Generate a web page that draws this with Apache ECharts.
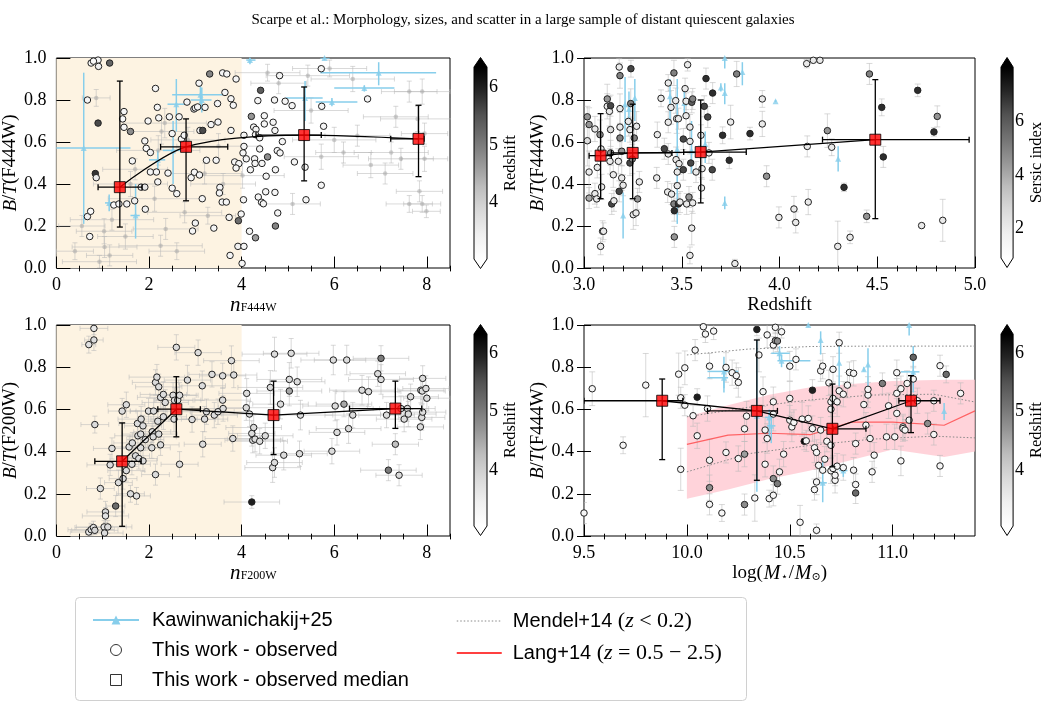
<!DOCTYPE html>
<html><head><meta charset="utf-8">
<script src="https://cdn.jsdelivr.net/npm/echarts@6/dist/echarts.min.js"></script>
<style>html,body{margin:0;padding:0;background:#fff}#c{width:1046px;height:707px}</style>
</head><body><div id="c"></div>
<script>
// ---------------- DATA ----------------
const titleText = 'Scarpe et al.: Morphology, sizes, and scatter in a large sample of distant quiescent galaxies';
const yTicks = [0, 0.2, 0.4, 0.6, 0.8, 1.0];
const nTicks = [0, 2, 4, 6, 8];
const nMinor = [0.5, 1, 1.5, 2.5, 3, 3.5, 4.5, 5, 5.5, 6.5, 7, 7.5, 8.5];
const zTicks = [3.0, 3.5, 4.0, 4.5, 5.0];
const zMinor = [3.1,3.2,3.3,3.4,3.6,3.7,3.8,3.9,4.1,4.2,4.3,4.4,4.6,4.7,4.8,4.9];
const mTicks = [9.5, 10.0, 10.5, 11.0];
const mMinor = [9.6,9.7,9.8,9.9,10.1,10.2,10.3,10.4,10.6,10.7,10.8,10.9,11.1,11.2,11.3];
const redshiftTicks = [4, 5, 6];
const sersicTicks = [2, 4, 6];

// Panel 1: n_F444W vs B/T(F444W)  [n, B/T, redshift]
const p1Obs = [[0.75,0.976,3.3],[0.9,0.99,3.3],[0.91,0.96,3.4],[0.8,0.985,3.2],[1.15,0.976,5.3],
[0.67,0.80,3.3],[0.9,0.69,5.6],[0.84,0.45,5.8],[0.86,0.43,3.5],[0.67,0.245,3.4],[0.74,0.27,3.2],[0.72,0.15,3.3],
[1.24,0.30,3.2],[1.35,0.305,3.3],[1.52,0.305,3.3],[1.69,0.32,3.4],[1.46,0.745,3.3],[1.43,0.71,3.2],[1.46,0.67,3.3],[1.6,0.65,4.8],
[1.64,0.51,3.3],[1.91,0.605,3.3],[1.94,0.57,3.2],[2.03,0.55,3.4],[1.98,0.70,3.3],[2.14,0.855,3.3],
[2.18,0.765,3.3],[2.21,0.715,3.3],[1.83,0.385,3.4],[1.91,0.385,3.6],[1.92,0.28,3.4],
[2.03,0.457,3.3],[2.16,0.457,3.3],[2.19,0.41,3.3],[2.41,0.452,3.3],[2.5,0.38,3.3],[2.6,0.354,3.3],
[2.44,0.72,3.3],[2.5,0.64,3.3],[2.65,0.72,3.3],[2.7,0.614,3.3],[2.76,0.632,3.3],[2.82,0.79,3.3],
[2.97,0.757,3.3],[3.0,0.762,3.3],[3.05,0.767,3.3],[3.08,0.88,3.3],[3.1,0.655,3.3],[3.16,0.655,5.6],
[2.91,0.43,3.3],[2.98,0.456,3.3],[3.09,0.443,3.3],[3.15,0.33,3.3],[3.0,0.214,3.4],[2.94,0.176,3.3],
[3.21,0.765,3.3],[3.31,0.924,4.9],[3.24,0.513,3.3],[3.45,0.513,3.3],[3.34,0.683,3.3],[3.49,0.695,3.3],[3.48,0.783,3.3],
[3.4,0.19,3.3],[3.53,0.384,3.3],[3.52,0.357,3.3],[3.58,0.314,3.3],[3.67,0.314,3.3],
[3.59,0.929,3.3],[3.68,0.924,3.3],[3.88,0.90,3.3],[3.64,0.836,3.3],[3.77,0.806,3.3],[3.82,0.775,3.3],[3.77,0.655,3.3],
[3.85,0.505,3.3],[3.94,0.497,3.3],[3.88,0.476,3.3],[3.73,0.241,3.3],[3.93,0.225,5.2],[3.99,0.257,3.3],
[3.92,0.103,3.4],[4.05,0.103,3.3],[3.75,0.06,3.3],[4.01,0.022,3.3],[4.04,0.325,3.3],
[4.05,0.632,3.3],[4.05,0.579,3.3],[4.03,0.548,3.3],[4.1,0.52,3.3],[4.19,0.468,3.3],
[4.21,0.722,4.7],[4.41,0.846,5.4],[4.35,0.797,3.3],[4.26,0.671,3.3],[4.31,0.66,3.3],[4.3,0.635,3.3],[4.39,0.62,3.3],
[4.28,0.52,3.3],[4.29,0.498,3.3],[4.44,0.498,3.3],[4.39,0.567,3.3],[4.49,0.725,3.3],[4.49,0.686,3.3],[4.56,0.529,4.8],[4.53,0.437,3.3],
[4.17,0.175,3.3],[4.3,0.144,4.6],[4.36,0.338,3.3],[4.43,0.313,3.3],[4.47,0.306,3.3],[4.52,0.363,3.3],
[4.71,0.80,3.3],[4.68,0.694,3.3],[4.72,0.655,3.3],[4.73,0.468,3.3],[4.72,0.36,3.3],[4.73,0.2,4.9],[4.78,0.262,3.3],
[4.77,0.559,3.3],[4.83,0.548,3.3],[4.88,0.602,3.3],[4.82,0.916,3.3],[4.94,0.794,3.3],[5.09,0.773,3.3],
[5.14,0.505,3.3],[5.37,0.48,3.3],[5.39,0.325,3.3],[5.72,0.949,3.3],[5.73,0.77,3.3],[5.77,0.675,3.3],[5.72,0.394,3.3],[6.72,0.805,3.3]];
// faint points [n, B/T, err_n, err_BT]
const p1Faint = [[0.86,0.81,0.3,0.04],[1.03,0.175,0.6,0.06],[1.04,0.10,0.7,0.05],[0.93,0.03,0.8,0.03],[1.15,0.06,0.5,0.05],[1.49,0.15,0.6,0.06],
[2.25,0.106,0.9,0.05],[2.36,0.186,0.7,0.05],[2.77,0.265,0.8,0.05],[3.27,0.249,0.6,0.04],[2.12,0.33,1.0,0.06],[1.2,0.23,0.9,0.05],
[1.6,0.40,0.8,0.06],[2.34,0.69,0.9,0.07],[2.27,0.65,0.7,0.06],[2.84,0.61,0.8,0.06],[2.2,0.56,0.9,0.07],[1.7,0.47,0.7,0.05],
[3.5,0.58,0.9,0.06],[3.2,0.45,0.8,0.05],[4.02,0.44,0.9,0.06],[4.56,0.93,0.7,0.04],[5.43,0.916,0.9,0.05],[5.9,0.95,0.8,0.04],
[6.4,0.90,0.9,0.06],[6.79,0.49,0.6,0.06],[7.33,0.72,0.7,0.05],[7.62,0.84,0.6,0.05],[7.9,0.84,0.6,0.06],[7.8,0.71,0.8,0.06],
[7.95,0.64,0.5,0.05],[7.95,0.52,0.5,0.06],[7.44,0.52,0.7,0.05],[7.84,0.365,0.5,0.05],[7.62,0.305,0.5,0.04],[7.9,0.305,0.4,0.04],
[7.99,0.27,0.3,0.03],[7.23,0.55,0.8,0.05],[5.1,0.305,0.6,0.05],[6.0,0.61,0.9,0.06],[5.72,0.53,0.8,0.06],[6.5,0.63,0.7,0.05],
[5.5,0.75,0.8,0.06],[6.2,0.55,0.6,0.05],[0.4,0.08,0.4,0.04],[0.55,0.2,0.5,0.05],[2.6,0.08,0.6,0.04],[3.6,0.4,0.7,0.05],
[4.8,0.88,0.6,0.05],[7.1,0.45,0.6,0.05]];
// Kawinwanichakij+25 [x, y, xlo, xhi, ylo, yhi]
const p1Kaw = [[0.59,0.571,0.0,1.6,0.21,0.93],[1.14,0.31,1.05,1.25,0.27,0.35],[1.71,0.25,1.6,1.8,0.14,0.4],[2.19,0.515,2.0,2.35,0.47,0.56],
[2.52,0.56,2.3,2.8,0.4,0.7],[2.59,0.78,2.4,2.8,0.65,0.9],[3.11,0.825,2.5,3.6,0.78,0.87],[3.14,0.8,2.9,3.35,0.74,0.86],
[4.18,0.99,4.1,4.3,0.97,1.0],[5.37,0.81,4.95,5.75,0.7,0.89],[5.95,0.79,5.6,6.5,0.77,0.81],[6.65,0.857,6.0,7.3,0.84,0.87],
[6.96,0.93,5.7,8.2,0.87,0.98],[5.79,1.0,5.7,5.9,0.99,1.0]];
// medians [x, y, xlo, xhi, ylo, yhi]
const p1Med = [[1.37,0.385,0.9,1.85,0.195,0.89],[2.8,0.577,2.25,3.7,0.32,0.71],[5.35,0.633,4.31,5.72,0.415,0.862],[7.82,0.615,7.22,7.94,0.435,0.775]];

// Panel 2: redshift vs B/T(F444W) [z, B/T, sersic n, err_BT]
const p2Obs = [[3.017,0.72,4.5,0.05],[3.026,0.683,4.5,0.08],[3.017,0.606,2.5,0.12],[3.026,0.457,2,0.1],[3.026,0.333,4,0.05],
[3.056,0.354,2,0.05],[3.056,0.662,2,0.06],[3.068,0.479,2,0.05],[3.065,0.329,2,0.04],
[3.082,0.635,4.5,0.07],[3.087,0.567,2,0.06],[3.09,0.386,2,0.06],[3.085,0.103,2,0.04],[3.095,0.175,2,0.05],[3.1,0.175,2,0.04],
[3.119,0.805,4.5,0.07],[3.119,0.77,2,0.06],[3.13,0.746,2,0.07],[3.136,0.773,6.5,0.05],
[3.136,0.659,2.5,0.08],[3.136,0.548,4.5,0.06],[3.133,0.508,2,0.06],[3.142,0.305,6.5,0.05],[3.15,0.444,2,0.06],[3.153,0.32,2,0.05],
[3.176,0.508,2,0.06],[3.18,0.957,2,0.04],[3.184,0.916,5,0.06],[3.184,0.759,2,0.07],[3.184,0.671,2,0.07],[3.184,0.619,5,0.06],[3.193,0.556,4.5,0.07],[3.193,0.429,2,0.06],[3.2,0.394,2,0.05],[3.18,0.365,6.5,0.05],
[3.227,0.698,2,0.07],[3.235,0.659,2,0.06],[3.235,0.5,6.5,0.06],[3.239,0.783,5,0.07],[3.24,0.949,6.5,0.04],[3.247,0.519,5,0.07],[3.252,0.254,2,0.07],[3.257,0.619,5,0.06],[3.266,0.262,2,0.06],[3.269,0.675,2,0.07],[3.274,0.329,4.5,0.05],[3.283,0.41,2,0.05],
[3.372,0.429,2,0.05],[3.375,0.635,2,0.06],[3.394,0.808,2,0.04],[3.411,0.568,6.5,0.05],
[3.431,0.881,2,0.04],[3.431,0.694,2,0.05],[3.431,0.543,2,0.05],[3.428,0.362,2,0.05],[3.445,0.765,2,0.08],[3.448,0.352,2,0.05],
[3.46,0.929,5,0.06],[3.46,0.305,5,0.05],[3.462,0.148,4.5,0.05],[3.462,0.273,7,0.05],
[3.469,0.797,2,0.06],[3.474,0.711,2,0.07],[3.483,0.711,2,0.05],[3.471,0.516,2,0.06],[3.477,0.457,2,0.05],[3.477,0.392,2,0.06],[3.486,0.497,2,0.05],[3.483,0.305,7,0.05],[3.491,0.314,2,0.05],
[3.508,0.468,6.5,0.05],[3.508,0.614,6.5,0.05],[3.517,0.854,2,0.05],[3.522,0.794,2,0.04],[3.522,0.725,2,0.06],[3.525,0.305,2,0.05],
[3.53,0.968,2,0.03],[3.537,0.338,4.5,0.05],[3.542,0.671,2,0.06],[3.542,0.603,2,0.06],[3.546,0.5,6.5,0.05],[3.542,0.06,2,0.04],[3.551,0.19,2,0.08],[3.556,0.31,2,0.05],
[3.551,0.789,6,0.05],[3.556,0.805,5,0.05],[3.573,0.457,2,0.05],[3.598,0.632,2,0.05],[3.604,0.473,2,0.05],[3.601,0.381,2,0.05],
[3.615,0.77,6.5,0.05],[3.624,0.902,7,0.05],[3.633,0.719,6.5,0.05],[3.639,0.548,2,0.05],
[3.658,0.833,7,0.05],[3.656,0.468,6.5,0.05],[3.709,0.632,7,0.04],[3.743,0.513,7,0.04],[3.75,0.695,2,0.08],[3.772,0.021,2,0.02],
[3.781,0.924,5,0.06],[3.849,0.64,7,0.03],[3.912,0.805,2,0.04],[3.912,0.686,2,0.06],[3.934,0.437,4.5,0.05],
[3.997,0.241,2,0.05],[4.074,0.281,2,0.06],[4.083,0.217,2,0.05],[4.139,0.973,2,0.02],[4.173,0.989,2,0.01],[4.207,0.989,2,0.01],
[4.142,0.579,2,0.05],[4.147,0.314,2,0.06],[4.245,0.654,4.5,0.08],[4.267,0.575,2,0.04],[4.298,0.103,2,0.12],[4.33,0.384,7,0.02],[4.361,0.146,2,0.03],
[4.46,0.924,5,0.05],[4.446,0.246,4.5,0.03],[4.523,0.765,7,0.04],[4.531,0.529,7,0.05],
[4.707,0.846,7,0.03],[4.727,0.202,2,0.01],[4.79,0.648,7,0.02],[4.807,0.722,4.5,0.05],[4.835,0.227,2,0.1]];
const p2Kaw = [[3.21,0.78,3.21,3.21,0.6,0.91],[3.2,0.25,3.2,3.2,0.14,0.36],[3.23,0.757,3.23,3.23,0.65,0.84],[3.26,0.81,3.26,3.26,0.7,0.9],
[3.44,0.818,3.44,3.44,0.7,0.9],[3.477,0.565,3.477,3.477,0.21,0.9],[3.513,0.786,3.513,3.513,0.72,0.85],[3.55,0.56,3.55,3.55,0.45,0.7],
[3.62,0.59,3.62,3.62,0.5,0.65],[3.7,0.86,3.7,3.7,0.84,0.88],[3.72,0.833,3.72,3.72,0.78,0.88],[3.72,1.0,3.72,3.72,0.95,1.0],
[3.72,0.31,3.72,3.72,0.28,0.34],[3.81,0.933,3.81,3.81,0.87,0.98],[3.98,0.794,3.98,3.98,0.79,0.8],[4.3,0.52,4.3,4.3,0.46,0.58]];
const p2Med = [[3.085,0.535,3.026,3.14,0.33,0.735],[3.249,0.548,3.14,3.45,0.33,0.78],[3.597,0.552,3.51,3.83,0.31,0.80],[4.49,0.611,4.22,4.97,0.235,0.897]];

// Panel 3: n_F200W vs B/T(F200W) [n, B/T, redshift, err_n, err_BT]
const p3Obs = [[0.70,0.907,3.7,0.15,0.04],[0.81,0.929,3.8,0.2,0.05],[0.81,0.984,3.6,0.3,0.03],
[0.83,0.528,3.8,0.3,0.04],[0.95,0.225,3.8,0.3,0.05],[0.70,0.019,3.6,0.4,0.02],[0.75,0.03,3.8,0.5,0.03],[0.8,0.04,3.7,0.4,0.03],[0.83,0.027,3.9,0.5,0.02],[1.03,0.043,3.7,0.6,0.03],[1.11,0.043,3.8,0.4,0.03],[1.06,0.114,3.8,0.4,0.05],[1.06,0.095,3.7,0.5,0.04],[1.04,0.014,3.8,0.4,0.02],
[1.28,0.142,5.2,0.2,0.05],[1.34,0.253,3.8,0.3,0.06],[1.44,0.272,3.8,0.3,0.05],[1.51,0.31,3.8,0.4,0.05],[1.63,0.34,3.8,0.4,0.05],[1.6,0.2,3.8,0.3,0.04],[1.73,0.19,3.7,0.3,0.04],
[1.16,0.337,3.8,0.5,0.05],[1.2,0.415,3.8,0.4,0.05],[1.42,0.592,3.8,0.3,0.06],[1.51,0.622,3.8,0.4,0.06],
[1.57,0.422,3.8,0.4,0.05],[1.64,0.441,3.8,0.4,0.05],[1.71,0.38,3.8,0.3,0.05],[1.78,0.367,3.8,0.4,0.05],[1.87,0.356,3.8,0.3,0.05],
[1.75,0.533,3.8,0.4,0.06],[1.83,0.554,3.8,0.5,0.06],[1.87,0.522,3.8,0.4,0.05],[1.76,0.475,3.8,0.5,0.05],[1.82,0.483,3.8,0.4,0.05],[1.82,0.418,3.8,0.4,0.05],[1.92,0.457,3.8,0.4,0.05],
[1.99,0.592,3.8,0.4,0.06],[2.1,0.592,3.8,0.5,0.06],[2.07,0.494,3.8,0.4,0.05],[2.09,0.47,3.8,0.5,0.05],[2.06,0.418,3.8,0.4,0.05],[2.14,0.291,3.8,0.3,0.05],
[2.14,0.728,3.8,0.5,0.06],[2.17,0.753,3.8,0.6,0.06],[2.21,0.707,3.8,0.5,0.06],[2.19,0.544,3.8,0.4,0.06],[2.21,0.483,3.8,0.4,0.05],[2.25,0.432,3.8,0.4,0.05],
[2.25,0.657,3.8,0.5,0.06],[2.31,0.671,3.8,0.5,0.06],[2.31,0.565,3.8,0.5,0.06],[2.35,0.633,3.8,0.5,0.06],
[2.52,0.667,3.8,0.5,0.06],[2.55,0.643,3.8,0.4,0.06],[2.54,0.554,3.8,0.5,0.06],[2.59,0.894,3.8,0.4,0.06],[2.62,0.644,3.8,0.5,0.06],[2.66,0.667,3.8,0.4,0.06],[2.66,0.34,3.8,0.4,0.06],
[2.83,0.739,3.8,0.5,0.07],[2.93,0.552,3.8,0.5,0.06],[3.06,0.869,3.8,0.5,0.06],[3.15,0.712,3.8,0.5,0.07],[3.16,0.435,3.8,0.4,0.06],[3.2,0.554,3.8,0.5,0.06],[3.24,0.589,3.8,0.6,0.06],
[3.36,0.766,3.8,0.5,0.06],[3.41,0.573,3.8,0.5,0.06],[3.49,0.589,3.8,0.6,0.06],[3.59,0.759,3.8,0.5,0.06],[3.59,0.644,3.8,0.6,0.06],[3.6,0.604,3.8,0.5,0.06],
[3.78,0.831,3.8,0.6,0.07],[3.83,0.763,3.8,0.5,0.06],[3.81,0.462,3.8,0.6,0.06],
[4.11,0.676,3.8,0.6,0.07],[4.1,0.608,3.8,0.6,0.06],[4.17,0.578,3.8,0.6,0.06],
[4.22,0.486,3.8,0.5,0.06],[4.26,0.514,3.8,0.6,0.06],[4.24,0.454,3.8,0.6,0.06],[4.29,0.459,3.8,0.6,0.06],[4.39,0.449,3.8,0.6,0.06],[4.51,0.475,3.8,0.6,0.06],
[4.62,0.704,3.8,0.7,0.08],[4.67,0.324,3.8,0.6,0.07],[4.71,0.348,3.8,0.6,0.07],[4.71,0.862,3.8,0.7,0.08],[4.84,0.625,3.8,0.6,0.07],
[4.91,0.383,3.8,0.6,0.07],[5.03,0.742,3.8,0.7,0.08],[5.03,0.687,4.5,0.7,0.07],[5.07,0.866,3.8,0.6,0.07],[5.2,0.731,3.8,0.6,0.07],[5.25,0.39,3.8,0.6,0.06],[5.27,0.573,3.8,0.7,0.07],
[5.95,0.402,3.8,0.6,0.06],[5.98,0.834,3.8,0.7,0.07],[6.02,0.616,3.8,0.7,0.07],[6.06,0.491,3.8,0.6,0.06],[6.27,0.834,3.8,0.7,0.07],[6.21,0.625,4.5,0.6,0.06],[6.31,0.509,3.8,0.7,0.07],[6.4,0.573,3.8,0.6,0.06],
[6.6,0.691,3.8,0.7,0.07],[6.74,0.684,3.8,0.7,0.07],[6.94,0.769,3.8,0.6,0.06],[7.01,0.742,3.8,0.7,0.07],[7.01,0.842,5.0,0.6,0.06],
[7.13,0.573,3.8,0.6,0.06],[7.17,0.312,5.0,0.6,0.05],[7.32,0.435,4.2,0.5,0.05],[7.4,0.288,3.8,0.5,0.05],
[7.44,0.604,3.8,0.6,0.06],[7.51,0.554,3.8,0.6,0.06],[7.58,0.604,3.8,0.6,0.06],[7.6,0.578,3.8,0.6,0.06],[7.65,0.66,3.8,0.6,0.06],
[7.87,0.691,3.8,0.5,0.06],[7.91,0.747,3.8,0.5,0.06],[7.9,0.687,3.8,0.5,0.06],[7.89,0.562,3.8,0.5,0.06],[7.91,0.587,3.8,0.5,0.06],[7.86,0.517,3.8,0.5,0.06],[7.98,0.699,3.8,0.5,0.06],[8.0,0.653,3.8,0.5,0.06],
[4.22,0.161,6.0,0.6,0.03]];
const p3Med = [[1.42,0.354,0.83,1.83,0.046,0.536],[2.59,0.601,2.19,3.11,0.47,0.755],[4.69,0.573,4.69,4.69,0.386,0.734],[7.32,0.604,6.33,7.89,0.51,0.734]];

// Panel 4: log stellar mass vs B/T(F444W) [logM, B/T, redshift, err_BT]
const p4Obs = [[9.5,0.109,3.3,0.05],[9.54,0.698,3.3,0.08],[9.69,0.43,3.3,0.04],[9.8,0.715,3.3,0.15],
[9.96,0.767,3.3,0.1],[9.97,0.655,3.3,0.05],[9.97,0.316,3.3,0.1],[9.99,0.797,3.3,0.08],[9.99,0.62,3.3,0.05],
[10.03,0.57,3.3,0.05],[10.04,0.881,3.3,0.05],[10.05,0.658,6.0,0.04],[10.05,0.475,3.3,0.06],
[10.08,0.992,3.3,0.05],[10.09,0.957,3.3,0.04],[10.13,0.971,3.3,0.04],[10.1,0.604,3.3,0.06],
[10.11,0.359,3.3,0.1],[10.11,0.229,4.8,0.06],[10.11,0.15,3.3,0.05],[10.11,0.805,3.3,0.06],[10.17,0.109,3.3,0.04],
[10.19,0.799,3.3,0.07],[10.19,0.396,3.3,0.05],[10.22,0.774,3.3,0.06],[10.24,0.76,3.3,0.06],[10.25,0.728,3.3,0.07],[10.25,0.367,3.3,0.06],
[10.28,0.149,4.8,0.05],[10.28,0.388,4.6,0.06],[10.28,0.508,3.3,0.06],[10.29,0.568,3.3,0.07],
[10.33,0.18,3.3,0.11],[10.34,0.979,6.0,0.03],[10.35,0.858,3.3,0.08],[10.37,0.684,3.3,0.07],[10.38,0.502,3.3,0.06],[10.38,0.34,3.3,0.06],
[10.39,0.953,3.3,0.06],[10.39,0.462,3.3,0.07],[10.4,0.177,3.3,0.04],[10.42,0.193,3.3,0.05],[10.42,0.272,4.8,0.06],[10.44,0.248,5.0,0.05],[10.45,0.304,3.3,0.06],[10.47,0.388,3.3,0.06],
[10.42,0.905,3.3,0.04],[10.43,0.926,4.7,0.04],[10.43,0.989,3.3,0.03],[10.44,0.924,4.8,0.05],[10.46,0.968,3.3,0.03],[10.42,0.636,3.3,0.07],[10.42,0.578,3.3,0.08],
[10.5,0.652,3.3,0.08],[10.5,0.549,3.3,0.07],[10.5,0.805,3.3,0.07],[10.51,0.517,3.3,0.07],[10.52,0.538,3.3,0.06],[10.53,0.837,3.3,0.05],
[10.55,0.065,3.3,0.08],[10.56,0.554,3.3,0.08],[10.57,0.449,6.3,0.04],[10.58,0.451,3.3,0.05],[10.59,0.557,3.3,0.06],
[10.61,0.691,6.0,0.05],[10.61,0.509,3.3,0.06],[10.62,0.418,3.3,0.07],[10.62,0.22,3.3,0.05],[10.63,0.256,3.3,0.06],[10.63,0.027,3.3,0.03],[10.63,0.396,3.3,0.06],[10.64,0.335,3.3,0.06],
[10.65,0.502,3.3,0.06],[10.65,0.783,3.3,0.05],[10.66,0.805,3.3,0.06],[10.67,0.364,3.3,0.06],[10.66,0.312,3.3,0.06],
[10.68,0.449,3.3,0.05],[10.69,0.726,3.3,0.06],[10.7,0.43,3.3,0.06],[10.7,0.309,3.3,0.06],[10.7,0.636,3.3,0.07],[10.7,0.601,3.3,0.07],[10.71,0.79,3.3,0.06],[10.71,0.32,3.3,0.06],[10.71,0.652,3.3,0.07],[10.72,0.264,3.3,0.06],[10.72,0.288,3.3,0.05],[10.73,0.636,3.3,0.07],[10.73,0.331,3.3,0.06],
[10.74,0.688,3.3,0.07],[10.74,0.916,3.3,0.05],[10.76,0.672,3.3,0.06],[10.76,0.324,3.3,0.06],[10.78,0.715,3.3,0.06],
[10.79,0.775,3.3,0.05],[10.81,0.312,3.3,0.06],[10.81,0.771,3.3,0.06],[10.82,0.244,3.3,0.05],[10.82,0.204,5.2,0.05],[10.82,0.438,3.3,0.05],
[10.86,0.623,3.3,0.06],[10.87,0.525,3.3,0.06],[10.88,0.668,3.3,0.06],[10.88,0.695,3.3,0.06],[10.89,0.462,3.3,0.06],[10.9,0.304,3.3,0.05],[10.91,0.383,3.3,0.06],
[10.95,0.723,5.0,0.05],[10.97,0.47,3.3,0.06],[10.98,0.617,3.3,0.06],[11.01,0.47,3.3,0.06],
[11.02,0.774,3.3,0.06],[11.02,0.676,3.3,0.07],[11.02,0.581,3.3,0.07],[11.04,0.698,3.3,0.06],[11.04,0.356,3.3,0.07],[11.05,0.517,3.3,0.06],[11.05,0.509,3.3,0.06],[11.06,0.502,3.3,0.05],
[11.07,0.723,3.3,0.06],[11.08,0.549,3.3,0.06],[11.1,0.847,5.3,0.05],[11.1,0.744,3.3,0.06],[11.12,0.641,3.3,0.06],
[11.17,0.533,4.8,0.05],[11.2,0.641,3.3,0.05],[11.2,0.481,3.3,0.05],[11.23,0.807,3.3,0.05],[11.23,0.332,3.3,0.05],[11.26,0.766,5.2,0.04],[11.33,0.676,3.3,0.05]];
const p4Kaw = [[10.18,0.78,10.1,10.25,0.7,0.85],[10.18,0.75,10.1,10.2,0.68,0.8],[10.4,0.562,10.38,10.42,0.45,0.6],[10.41,0.522,10.39,10.43,0.44,0.58],
[10.45,0.866,10.41,10.5,0.83,0.9],[10.46,0.831,10.44,10.6,0.8,0.86],[10.59,1.0,10.59,10.59,0.99,1.0],[10.65,0.929,10.65,10.65,0.86,0.97],
[10.66,0.252,10.64,10.68,0.16,0.35],[10.74,0.821,10.74,10.74,0.71,0.93],[10.86,0.79,10.86,10.86,0.78,0.8],[10.88,0.813,10.88,10.88,0.7,0.89],
[11.08,1.0,11.08,11.08,0.95,1.0],[11.1,0.778,11.04,11.13,0.68,0.9],[11.25,0.592,11.25,11.25,0.55,0.63],[10.76,0.31,10.74,10.78,0.28,0.33],
[10.34,0.57,10.34,10.34,0.21,0.93]];
const p4Med = [[9.88,0.641,9.5,9.98,0.362,0.744],[10.34,0.593,10.1,10.44,0.264,0.929],[10.707,0.508,10.71,10.87,0.328,0.72],[11.089,0.641,11.03,11.23,0.49,0.76]];
// Lang+14 (z = 0.5-2.5)
const langX = [10.0, 10.2, 10.4, 10.6, 10.8, 11.0, 11.25, 11.4];
const langMid = [0.434, 0.478, 0.487, 0.48, 0.54, 0.54, 0.525, 0.593];
const langLo = [0.177, 0.22, 0.27, 0.31, 0.36, 0.41, 0.375, 0.40];
const langHi = [0.565, 0.62, 0.67, 0.705, 0.72, 0.735, 0.74, 0.74];
// Mendel+14 (z < 0.2)
const mendX = [10.0, 10.3, 10.6, 10.9, 11.2, 11.4];
const mendHi = [0.858, 0.886, 0.898, 0.9, 0.9, 0.9];
const mendMid = [0.565, 0.61, 0.645, 0.668, 0.672, 0.635];
const mendLo = [0.304, 0.39, 0.43, 0.459, 0.473, 0.465];

// ---------------- STYLE / BUILD ----------------
const SERIF = "'Liberation Serif', 'DejaVu Serif', serif";
const SANS = "'Liberation Sans', 'DejaVu Sans', sans-serif";
const GREYS = ['#ffffff','#f0f0f0','#d9d9d9','#bdbdbd','#969696','#737373','#525252','#252525','#000000'];
const SKY = '#87ceeb';
const EB_GREY = 'rgba(185,185,185,0.55)';

const panels = [
  {left: 55, top: 58, width: 395, height: 210, xmin: 0, xmax: 8.5, ticks: nTicks, minor: nMinor, fmt: v => String(v)},
  {left: 584, top: 58, width: 391, height: 210, xmin: 3.0, xmax: 5.0, ticks: zTicks, minor: zMinor, fmt: v => v.toFixed(1)},
  {left: 55, top: 325, width: 395, height: 211, xmin: 0, xmax: 8.5, ticks: nTicks, minor: nMinor, fmt: v => String(v)},
  {left: 584, top: 325, width: 391, height: 211, xmin: 9.5, xmax: 11.4, ticks: mTicks, minor: mMinor, fmt: v => v.toFixed(1)}
];
const cbars = [
  {left: 474, top: 67, width: 13, height: 192, lo: 3.02, hi: 6.36, ticks: redshiftTicks, name: 'Redshift'},
  {left: 1001, top: 67, width: 12.5, height: 191, lo: 0.89, hi: 8.05, ticks: sersicTicks, name: 'Sersic index'},
  {left: 474, top: 334, width: 13, height: 192, lo: 3.04, hi: 6.33, ticks: redshiftTicks, name: 'Redshift'},
  {left: 1001, top: 334, width: 12.5, height: 192, lo: 3.04, hi: 6.33, ticks: redshiftTicks, name: 'Redshift'}
];

// axis titles: main part on the major axis, subscript part on the minor-tick axis (fixed-width tokens keep them aligned)
const mainRich = {
  i: {fontFamily: SERIF, fontStyle: 'italic', fontSize: 20, color: '#000'},
  r: {fontFamily: SERIF, fontSize: 19, color: '#000'},
  n: {fontFamily: SERIF, fontStyle: 'italic', fontSize: 21, width: 11, color: '#000'},
  a: {fontFamily: SERIF, fontSize: 19, width: 32, color: '#000'},
  M: {fontFamily: SERIF, fontStyle: 'italic', fontSize: 20, width: 17, color: '#000'},
  b: {fontFamily: SERIF, fontSize: 19, width: 6, color: '#000'},
  c: {fontFamily: SERIF, fontSize: 19, width: 7, color: '#000'},
  g36: {width: 36}, g8: {width: 8}, g9: {width: 9}
};
const subRich = {
  s: {fontFamily: SERIF, fontSize: 12, color: '#000'},
  t: {fontFamily: "'DejaVu Serif', serif", fontSize: 11, width: 8, color: '#000'},
  t9: {fontFamily: "'DejaVu Serif', serif", fontSize: 11, width: 9, color: '#000'},
  g11: {width: 11}, g49: {width: 49}, g23: {width: 23}, g7: {width: 7}
};
const xMain = ['{n|n}{g36| }', '{r|Redshift}', '{n|n}{g36| }', '{a|log(}{M|M}{g8| }{b|/}{M|M}{g9| }{c|)}'];
const xSub = ['{g11| }{s|F444W}', '', '{g11| }{s|F200W}', '{g49| }{t|\u22c6}{g23| }{t9|\u2299}{g7| }'];
const yNames = ['{i|B}{r|/}{i|T}{r|(F444W)}', '{i|B}{r|/}{i|T}{r|(F444W)}', '{i|B}{r|/}{i|T}{r|(F200W)}', '{i|B}{r|/}{i|T}{r|(F444W)}'];
const yRich = {
  i: {fontFamily: SERIF, fontStyle: 'italic', fontSize: 19, color: '#000'},
  r: {fontFamily: SERIF, fontSize: 19, color: '#000'}
};

const grid = [], xAxis = [], yAxis = [], series = [], visualMap = [];
panels.forEach((p, i) => {
  grid.push({left: p.left, top: p.top, width: p.width, height: p.height, show: true, borderColor: '#000', borderWidth: 1, backgroundColor: 'transparent', containLabel: false});
  xAxis.push({
    gridIndex: i, type: 'value', min: p.xmin, max: p.xmax, position: 'bottom', offset: 4.5,
    axisLine: {show: false}, splitLine: {show: false},
    axisTick: {show: true, inside: true, length: 11.5, customValues: p.ticks, lineStyle: {color: '#000', width: 1}},
    axisLabel: {customValues: p.ticks, formatter: p.fmt, margin: 4, fontFamily: SERIF, fontSize: 18, color: '#000'},
    name: xMain[i], nameLocation: 'middle', nameGap: i === 1 ? 20 : 18,
    nameTextStyle: {fontFamily: SERIF, fontSize: 19, color: '#000', rich: mainRich}
  });
  xAxis.push({
    gridIndex: i, type: 'value', min: p.xmin, max: p.xmax, position: 'bottom', offset: 3.4,
    axisLine: {show: false}, splitLine: {show: false}, axisLabel: {show: false},
    axisTick: {show: true, inside: true, length: 5.7, customValues: p.minor, lineStyle: {color: '#000', width: 1}},
    name: xSub[i], nameLocation: 'middle', nameGap: i === 3 ? 32 : 30,
    nameTextStyle: {fontFamily: SERIF, fontSize: 12, color: '#000', rich: subRich}
  });
  yAxis.push({
    gridIndex: i, type: 'value', min: 0, max: 1, position: 'left', offset: 7,
    axisLine: {show: false}, splitLine: {show: false},
    axisTick: {show: true, inside: true, length: 14, customValues: yTicks, lineStyle: {color: '#000', width: 1}},
    axisLabel: {customValues: yTicks, formatter: v => v.toFixed(1), margin: 3, fontFamily: SERIF, fontSize: 18, color: '#000'},
    name: yNames[i], nameLocation: 'middle', nameGap: 22, nameRotate: 90,
    nameTextStyle: {fontFamily: SERIF, fontSize: 19, color: '#000', rich: yRich}
  });
});
cbars.forEach((c, k) => {
  grid.push({left: c.left, top: c.top, width: c.width, height: c.height, show: false});
  xAxis.push({gridIndex: 4 + k, type: 'value', min: 0, max: 1, show: false});
  yAxis.push({
    gridIndex: 4 + k, type: 'value', min: c.lo, max: c.hi, position: 'right',
    axisLine: {show: false}, splitLine: {show: false},
    axisTick: {show: true, length: 3, customValues: c.ticks, lineStyle: {color: '#000'}},
    axisLabel: {customValues: c.ticks, margin: 2, fontFamily: SERIF, fontSize: 18, color: '#000'},
    name: c.name, nameLocation: 'middle', nameRotate: 90, nameGap: 10,
    nameTextStyle: {fontFamily: SERIF, fontSize: 16.5, color: '#000'}
  });
});

function errRender(color, cap, width) {
  return function (params, api) {
    const x = api.value(0), y = api.value(1);
    const xlo = api.value(2), xhi = api.value(3), ylo = api.value(4), yhi = api.value(5);
    const st = {stroke: color, lineWidth: width};
    const ch = [];
    if (yhi > ylo) {
      const a = api.coord([x, ylo]), b = api.coord([x, yhi]);
      ch.push({type: 'line', shape: {x1: a[0], y1: a[1], x2: b[0], y2: b[1]}, style: st});
      if (cap) {
        ch.push({type: 'line', shape: {x1: a[0] - cap, y1: a[1], x2: a[0] + cap, y2: a[1]}, style: st});
        ch.push({type: 'line', shape: {x1: b[0] - cap, y1: b[1], x2: b[0] + cap, y2: b[1]}, style: st});
      }
    }
    if (xhi > xlo) {
      const a = api.coord([xlo, y]), b = api.coord([xhi, y]);
      ch.push({type: 'line', shape: {x1: a[0], y1: a[1], x2: b[0], y2: b[1]}, style: st});
      if (cap) {
        ch.push({type: 'line', shape: {x1: a[0], y1: a[1] - cap, x2: a[0], y2: a[1] + cap}, style: st});
        ch.push({type: 'line', shape: {x1: b[0], y1: b[1] - cap, x2: b[0], y2: b[1] + cap}, style: st});
      }
    }
    return {type: 'group', children: ch};
  };
}
function errSeries(i, data, color, cap, width, z) {
  return {type: 'custom', xAxisIndex: 2 * i, yAxisIndex: i, data: data, renderItem: errRender(color, cap, width),
          encode: {x: 0, y: 1}, clip: true, z: z, silent: true};
}
function shadeSeries(i) {
  return {type: 'custom', xAxisIndex: 2 * i, yAxisIndex: i, data: [[0, 0, 4, 1]], clip: true, z: 0, silent: true,
    renderItem: (params, api) => {
      const a = api.coord([api.value(0), api.value(1)]), b = api.coord([api.value(2), api.value(3)]);
      return {type: 'rect', shape: {x: a[0], y: b[1], width: b[0] - a[0], height: a[1] - b[1]}, style: {fill: '#fdf3e2'}};
    }};
}
function obsSeries(i, data) {
  return {type: 'scatter', name: 'This work - observed', xAxisIndex: 2 * i, yAxisIndex: i, data: data,
    symbol: 'circle', symbolSize: 6.5, itemStyle: {borderColor: '#222', borderWidth: 1, opacity: 1}, z: 4};
}
function kawSeries(i, data) {
  return {type: 'scatter', name: 'Kawinwanichakij+25', xAxisIndex: 2 * i, yAxisIndex: i, data: data.map(d => [d[0], d[1]]),
    symbol: 'triangle', symbolSize: 6, itemStyle: {color: SKY}, z: 3};
}
function medSeries(i, data, smooth) {
  return [
    {type: 'line', name: 'median line', xAxisIndex: 2 * i, yAxisIndex: i, data: data.map(d => [d[0], d[1]]),
     symbol: 'none', smooth: smooth, lineStyle: {color: '#000', width: 1.3}, z: 6, silent: true},
    errSeries(i, data, '#000', 3, 1.3, 6),
    {type: 'scatter', name: 'This work - observed median', xAxisIndex: 2 * i, yAxisIndex: i, data: data.map(d => [d[0], d[1]]),
     symbol: 'rect', symbolSize: 11, itemStyle: {color: '#ff0000', borderColor: '#000', borderWidth: 1}, z: 7}
  ];
}

// legend carrier series (empty)
series.push({type: 'line', name: 'Kawinwanichakij+25', xAxisIndex: 0, yAxisIndex: 0, data: [], symbol: 'triangle', symbolSize: 10,
  itemStyle: {color: SKY}, lineStyle: {color: SKY, width: 1.2}});
series.push({type: 'scatter', name: 'This work - observed', xAxisIndex: 0, yAxisIndex: 0, data: [], symbol: 'circle',
  itemStyle: {color: '#fff', borderColor: '#000', borderWidth: 1}});
series.push({type: 'scatter', name: 'This work - observed median', xAxisIndex: 0, yAxisIndex: 0, data: [], symbol: 'rect',
  itemStyle: {color: '#fff', borderColor: '#000', borderWidth: 1}});

// Panel 1
series.push(shadeSeries(0));
series.push(errSeries(0, p1Faint.map(d => [d[0], d[1], d[0] - d[2], d[0] + d[2], d[1] - d[3], d[1] + d[3]]), EB_GREY, 2.5, 1, 1));
series.push({type: 'scatter', name: 'faint', xAxisIndex: 0, yAxisIndex: 0, data: p1Faint.map(d => [d[0], d[1]]), symbol: 'circle',
  symbolSize: 4.5, itemStyle: {color: 'rgba(160,160,160,0.6)'}, z: 2, silent: true});
series.push(errSeries(0, p1Kaw, SKY, 0, 1.5, 2));
series.push(kawSeries(0, p1Kaw));
const idxP1 = series.length; series.push(obsSeries(0, p1Obs));
medSeries(0, p1Med, 0.3).forEach(s => series.push(s));

// Panel 2
series.push(errSeries(1, p2Obs.map(d => [d[0], d[1], d[0], d[0], d[1] - d[3], d[1] + d[3]]), EB_GREY, 3, 1, 1));
series.push(errSeries(1, p2Kaw, SKY, 0, 1.5, 2));
series.push(kawSeries(1, p2Kaw));
const idxP2 = series.length; series.push(obsSeries(1, p2Obs));
medSeries(1, p2Med, false).forEach(s => series.push(s));

// Panel 3
series.push(shadeSeries(2));
series.push(errSeries(2, p3Obs.map(d => [d[0], d[1], d[0] - d[3], d[0] + d[3], d[1] - d[4], d[1] + d[4]]), EB_GREY, 2.5, 1, 1));
const idxP3 = series.length; series.push(obsSeries(2, p3Obs));
medSeries(2, p3Med, false).forEach(s => series.push(s));

// Panel 4
series.push({type: 'custom', name: 'Lang band', xAxisIndex: 6, yAxisIndex: 3, data: [[0]], clip: true, z: 0, silent: true,
  renderItem: (params, api) => {
    const pts = [];
    langX.forEach((x, k) => pts.push(api.coord([x, langHi[k]])));
    for (let k = langX.length - 1; k >= 0; k--) pts.push(api.coord([langX[k], langLo[k]]));
    return {type: 'polygon', shape: {points: pts}, style: {fill: 'rgba(255,192,203,0.7)'}};
  }});
[mendHi, mendMid, mendLo].forEach(arr => series.push({type: 'line', name: 'Mendel+14 (z < 0.2)', xAxisIndex: 6, yAxisIndex: 3,
  data: mendX.map((x, k) => [x, arr[k]]), symbol: 'none', lineStyle: {color: '#888', width: 1, type: [1.5, 2]}, z: 1, silent: true}));
series.push({type: 'line', name: 'Lang+14 (z = 0.5 - 2.5)', xAxisIndex: 6, yAxisIndex: 3, data: langX.map((x, k) => [x, langMid[k]]),
  symbol: 'none', lineStyle: {color: 'rgba(255,60,60,0.75)', width: 1.2}, z: 1, silent: true});
series.push(errSeries(3, p4Obs.map(d => [d[0], d[1], d[0], d[0], d[1] - d[3], d[1] + d[3]]), EB_GREY, 3, 1, 1));
series.push(errSeries(3, p4Kaw, SKY, 0, 1.5, 2));
series.push(kawSeries(3, p4Kaw));
const idxP4 = series.length; series.push(obsSeries(3, p4Obs));
medSeries(3, p4Med, false).forEach(s => series.push(s));

// Colorbars
const cbStops = GREYS.map((c, k) => ({offset: k / (GREYS.length - 1), color: c}));
cbars.forEach((c, k) => {
  series.push({type: 'custom', xAxisIndex: 8 + k, yAxisIndex: 4 + k, data: [[0]], clip: false, silent: true, z: 2,
    renderItem: (params, api) => {
      const b = api.coord([0, c.lo]), t = api.coord([1, c.hi]);
      const x0 = b[0], x1 = t[0], y0 = b[1], y1 = t[1], xm = (x0 + x1) / 2, tip = 9.5;
      return {type: 'group', children: [
        {type: 'rect', shape: {x: x0, y: y1, width: x1 - x0, height: y0 - y1},
         style: {fill: {type: 'linear', x: 0, y: 1, x2: 0, y2: 0, colorStops: cbStops}}},
        {type: 'polygon', shape: {points: [[x0, y1], [xm, y1 - tip], [x1, y1]]}, style: {fill: '#000'}},
        {type: 'polygon', shape: {points: [[x0, y0], [xm, y0 + tip], [x1, y0]]}, style: {fill: '#fff'}},
        {type: 'polygon', shape: {points: [[x0, y0], [x0, y1], [xm, y1 - tip], [x1, y1], [x1, y0], [xm, y0 + tip]]},
         style: {fill: 'none', stroke: '#000', lineWidth: 1}}
      ]};
    }});
});

[[idxP1, cbars[0]], [idxP2, cbars[1]], [idxP3, cbars[2]], [idxP4, cbars[3]]].forEach(([si, c]) => {
  visualMap.push({type: 'continuous', show: false, seriesIndex: si, dimension: 2, min: c.lo, max: c.hi,
    inRange: {color: GREYS}, outOfRange: {color: '#000'}});
});

const legRich = {
  m: {fontFamily: SERIF, fontStyle: 'italic', fontSize: 22, color: '#000'},
  r: {fontFamily: SERIF, fontSize: 22, color: '#000'}
};
const legFmt = name => {
  if (name.indexOf('Mendel') === 0) return 'Mendel+14 {r|(}{m|z}{r| < 0.2)}';
  if (name.indexOf('Lang') === 0) return 'Lang+14 {r|(}{m|z}{r| = 0.5 \u2212 2.5)}';
  return name;
};
const legText1 = {fontFamily: SANS, fontSize: 20, color: '#000', padding: [0, 0, 0, 8], rich: legRich};
const legText2 = {fontFamily: SANS, fontSize: 20, color: '#000', padding: [0, 0, 0, 6], rich: legRich};

const option = {
  animation: false,
  backgroundColor: '#fff',
  title: {text: titleText, left: 'center', top: 8, textStyle: {fontFamily: SERIF, fontSize: 15, fontWeight: 'normal', color: '#000'}},
  graphic: [{type: 'rect', left: 75, top: 597, shape: {width: 671, height: 103, r: 4}, style: {fill: '#fff', stroke: '#d0d0d0', lineWidth: 1}, z: 0}],
  legend: [
    {orient: 'vertical', left: 87, top: 605, itemWidth: 46, itemHeight: 11, itemGap: 10, selectedMode: false,
     data: [
       {name: 'Kawinwanichakij+25'},
       {name: 'This work - observed', icon: 'circle', itemStyle: {color: '#fff', borderColor: '#000', borderWidth: 1}},
       {name: 'This work - observed median', icon: 'path://M0,0L10,0L10,10L0,10Z', itemStyle: {color: '#fff', borderColor: '#000', borderWidth: 1}}
     ], formatter: legFmt, textStyle: legText1},
    {orient: 'vertical', left: 451, top: 605, itemWidth: 45, itemHeight: 11, itemGap: 10, selectedMode: false,
     data: [
       {name: 'Mendel+14 (z < 0.2)', itemStyle: {opacity: 0}, lineStyle: {color: '#888', width: 1, type: [1.5, 2]}},
       {name: 'Lang+14 (z = 0.5 - 2.5)', itemStyle: {opacity: 0}, lineStyle: {color: '#ff0000', width: 1.5}}
     ], formatter: legFmt, textStyle: legText2}
  ],
  grid, xAxis, yAxis, visualMap, series
};
const chart = echarts.init(document.getElementById('c'), null, {renderer: 'canvas'});
chart.setOption(option);
</script>
</body></html>
